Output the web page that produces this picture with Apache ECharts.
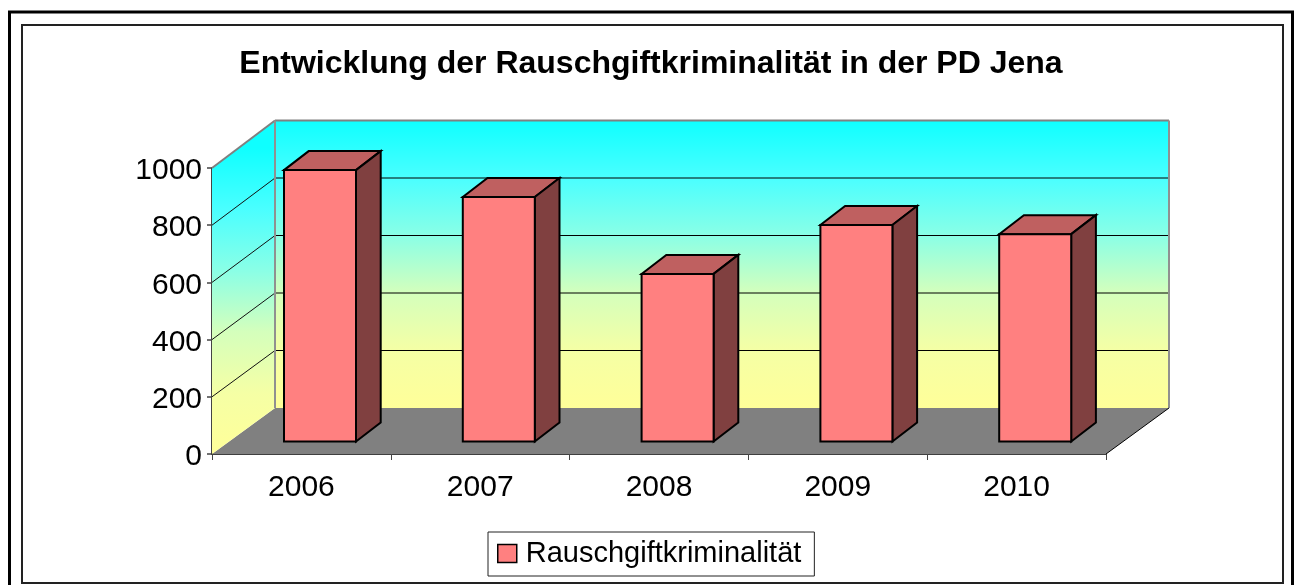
<!DOCTYPE html>
<html>
<head>
<meta charset="utf-8">
<style>html,body{margin:0;padding:0;background:#fff}#c{width:1294px;height:585px}</style>
<script src="https://cdn.jsdelivr.net/npm/echarts@6/dist/echarts.min.js"></script>
</head>
<body>
<div id="c"></div>
<script>
const titleText = 'Entwicklung der Rauschgiftkriminalität in der PD Jena';
const seriesName = 'Rauschgiftkriminalität';
const categories = ['2006', '2007', '2008', '2009', '2010'];
const values = [949, 855, 586, 757, 725];
const yTicks = [0, 200, 400, 600, 800, 1000];

const FONT = '"Liberation Sans", Arial, sans-serif';
const WALL_DX = 63, WALL_DY = 46;      // projected floor depth
const BACK_SCALE = 287.5 / 286;        // back wall is very slightly taller
const GAP_DX = 18.6, GAP_DY = 12.5;    // bar front offset from floor front
const BAR_W = 72, BAR_DX = 24.7, BAR_DY = 19; // bar width and depth
const WALL_STOPS = [
  { offset: 0, color: '#0FFFFF' }, { offset: 0.2, color: '#4AFFFF' },
  { offset: 0.4, color: '#8AFFE6' }, { offset: 0.6, color: '#D4FFBC' },
  { offset: 0.8, color: '#F5FFA5' }, { offset: 1, color: '#FFFF99' }
];

function poly(pts, fill, stroke, lw) {
  return { type: 'polygon', shape: { points: pts },
    style: { fill: fill, stroke: stroke || null, lineWidth: lw || 0, lineJoin: 'miter' } };
}
function seg(a, b, color, lw) {
  return { type: 'line', shape: { x1: a[0], y1: a[1], x2: b[0], y2: b[1] },
    style: { stroke: color, lineWidth: lw, fill: null } };
}
function grad(y, y2) {
  return { type: 'linear', global: true, x: 0, y: y, x2: 0, y2: y2, colorStops: WALL_STOPS };
}

function renderWalls(params, api) {
  const band = api.size([1, 0])[0];
  const o = api.coord([0, 0]);
  const t = api.coord([0, 1000]);
  const left = o[0] - band / 2, right = left + band * categories.length;
  const y0 = o[1], y1 = t[1];
  const backBottom = y0 - WALL_DY;
  const backY = function (y) { return backBottom - (y0 - y) * BACK_SCALE; };
  const backTop = backY(y1);
  const bl = left + WALL_DX, br = right + WALL_DX;
  const kids = [];
  kids.push(poly([[left, y0], [right, y0], [br, backBottom], [bl, backBottom]], '#808080'));
  kids.push(poly([[bl, backTop], [br, backTop], [br, backBottom], [bl, backBottom]], grad(backTop, backBottom)));
  kids.push(poly([[left, y1], [bl, backTop], [bl, backBottom], [left, y0]], grad(y1 - 20, y0)));
  yTicks.forEach(function (v) {
    if (v === 0 || v === 1000) return;
    const y = api.coord([0, v])[1];
    kids.push(seg([left, y], [bl, backY(y)], '#111', 1));
    kids.push(seg([bl, backY(y)], [br, backY(y)], '#000', 1));
  });
  kids.push(seg([left, y1], [bl, backTop], '#808080', 2));
  kids.push(seg([bl, backTop], [br, backTop], '#808080', 2));
  kids.push(seg([bl, backTop], [bl, backBottom], '#909090', 2));
  kids.push(seg([br, backTop], [br, backBottom], '#909090', 2));
  kids.push(seg([right, y0], [br, backBottom], '#000', 1));
  return { type: 'group', children: kids };
}

function renderBar(params, api) {
  const c = api.coord([api.value(0), 0]);
  const top = api.coord([api.value(0), api.value(1)]);
  const x0 = c[0] + GAP_DX - BAR_W / 2, x1 = x0 + BAR_W;
  const yb = c[1] - GAP_DY, yt = top[1] - GAP_DY;
  return { type: 'group', children: [
    poly([[x0, yt], [x1, yt], [x1 + BAR_DX, yt - BAR_DY], [x0 + BAR_DX, yt - BAR_DY]], '#BF6060', '#000', 2),
    poly([[x1, yt], [x1 + BAR_DX, yt - BAR_DY], [x1 + BAR_DX, yb - BAR_DY], [x1, yb]], '#804040', '#000', 2),
    poly([[x0, yt], [x1, yt], [x1, yb], [x0, yb]], '#FF8080', '#000', 2)
  ] };
}

const chart = echarts.init(document.getElementById('c'), null, { renderer: 'canvas' });
chart.setOption({
  animation: false,
  backgroundColor: '#fff',
  textStyle: { fontFamily: FONT },
  title: {
    text: titleText, left: 651, textAlign: 'center', top: 48, padding: 0,
    textStyle: { fontFamily: FONT, fontWeight: 'bold', fontSize: 32, color: '#000' }
  },
  legend: {
    left: 488, top: 532, data: [{ name: seriesName, icon: 'rect' }],
    padding: [7, 13, 8, 9], itemWidth: 19, itemHeight: 18,
    backgroundColor: '#fff', borderColor: '#222', borderWidth: 1,
    itemStyle: { color: '#FF8080', borderColor: '#000', borderWidth: 1.5 },
    textStyle: { fontFamily: FONT, fontSize: 29, color: '#000', padding: [0, 0, 0, 4] }
  },
  grid: { left: 212, top: 168, width: 894, height: 286, containLabel: false },
  xAxis: {
    type: 'category', data: categories,
    axisLine: { lineStyle: { color: '#000', width: 1.5 } },
    axisTick: { show: true, length: 6, alignWithLabel: false, lineStyle: { color: '#444' } },
    axisLabel: { fontFamily: FONT, fontSize: 30, color: '#000', margin: 19 },
    splitLine: { show: false }
  },
  yAxis: {
    type: 'value', min: 0, max: 1000, interval: 200,
    axisLine: { show: true, lineStyle: { color: '#444', width: 2 } },
    axisTick: { show: true, length: 5, lineStyle: { color: '#444', width: 1.5 } },
    axisLabel: { fontFamily: FONT, fontSize: 30, color: '#000', margin: 10, verticalAlign: 'top', lineHeight: 6, formatter: function (v) { return String(v); } },
    splitLine: { show: false }
  },
  graphic: [
    { type: 'rect', silent: true, z: -1, shape: { x: 9.5, y: 12, width: 1283, height: 600 }, style: { fill: '#fff', stroke: '#000', lineWidth: 3 } },
    { type: 'rect', silent: true, z: -1, shape: { x: 22, y: 25, width: 1261, height: 558 }, style: { fill: '#fff', stroke: '#222', lineWidth: 2 } }
  ],
  series: [
    { type: 'custom', silent: true, z: 1, clip: false, renderItem: renderWalls, data: [[0, 0]], encode: { x: 0, y: 1 } },
    { type: 'custom', name: seriesName, z: 3, clip: false, renderItem: renderBar,
      itemStyle: { color: '#FF8080' },
      data: values.map(function (v, i) { return [i, v]; }), encode: { x: 0, y: 1 } }
  ]
});
</script>
</body>
</html>
